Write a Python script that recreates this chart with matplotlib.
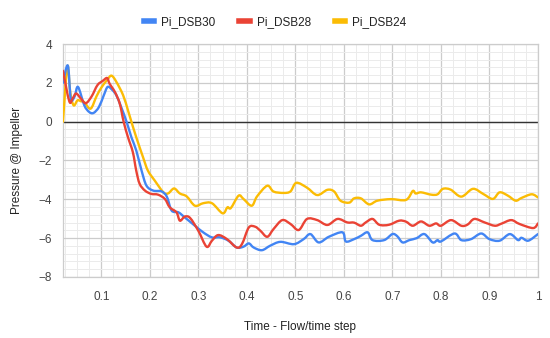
import numpy as np
import matplotlib.pyplot as plt
from matplotlib.path import Path
from matplotlib.patches import PathPatch
from matplotlib.lines import Line2D
from matplotlib.ticker import MultipleLocator, FixedLocator

plt.rcParams['font.family'] = ['Liberation Sans', 'DejaVu Sans']

# Pi_DSB30 (blue)
x30 = [0.021, 0.031, 0.037, 0.045, 0.052, 0.065, 0.075, 0.084, 0.095, 0.105, 0.113, 0.122,
       0.131, 0.141, 0.152, 0.162, 0.172, 0.183, 0.193, 0.207, 0.224, 0.235, 0.245, 0.259,
       0.272, 0.293, 0.31, 0.328, 0.345, 0.362, 0.379, 0.393, 0.404, 0.414, 0.431, 0.448,
       0.469, 0.497, 0.517, 0.531, 0.548, 0.569, 0.597, 0.604, 0.621, 0.635, 0.649, 0.659,
       0.683, 0.7, 0.71, 0.721, 0.735, 0.75, 0.766, 0.783, 0.793, 0.80, 0.828, 0.842,
       0.862, 0.883, 0.9, 0.921, 0.942, 0.959, 0.966, 0.98, 1.0]
y30 = [2.0, 2.89, 1.19, 1.3, 1.79, 0.84, 0.5, 0.45, 0.75, 1.35, 1.79, 1.65,
       1.36, 0.75, 0.0, -0.8, -1.48, -2.52, -3.29, -3.55, -3.59, -3.86, -4.58, -4.67,
       -4.93, -5.36, -5.7, -5.96, -5.96, -6.13, -6.48, -6.44, -6.27, -6.48, -6.62, -6.39,
       -6.19, -6.31, -6.05, -5.79, -6.22, -5.93, -5.7, -6.17, -6.05, -5.88, -5.7, -6.1,
       -6.1, -5.79, -5.9, -6.22, -6.1, -6.0, -5.79, -6.22, -6.1, -6.17, -5.76, -6.1,
       -6.05, -5.76, -6.05, -6.13, -5.79, -6.1, -5.98, -6.13, -5.79]

# Pi_DSB28 (red)
x28 = [0.021, 0.034, 0.041, 0.048, 0.058, 0.068, 0.08, 0.092, 0.103, 0.112, 0.117, 0.128,
       0.138, 0.146, 0.155, 0.165, 0.172, 0.179, 0.19, 0.203, 0.217, 0.231, 0.241, 0.255,
       0.262, 0.272, 0.283, 0.3, 0.317, 0.328, 0.341, 0.359, 0.379, 0.39, 0.404, 0.417,
       0.428, 0.442, 0.455, 0.473, 0.49, 0.507, 0.524, 0.545, 0.566, 0.587, 0.607, 0.621,
       0.635, 0.645, 0.659, 0.673, 0.693, 0.714, 0.728, 0.742, 0.759, 0.776, 0.79, 0.80,
       0.821, 0.842, 0.855, 0.869, 0.89, 0.911, 0.925, 0.945, 0.962, 0.99, 1.0]
y28 = [2.62, 1.05, 1.2, 1.45, 1.19, 0.95, 1.3, 1.88, 2.1, 2.25, 1.96, 1.53,
       0.93, 0.0, -0.8, -1.57, -2.52, -3.2, -3.55, -3.72, -3.76, -3.98, -4.41, -4.67,
       -5.1, -4.89, -4.96, -5.62, -6.44, -6.13, -5.84, -6.05, -6.48, -6.3, -5.45, -5.41,
       -5.62, -5.93, -5.53, -5.07, -5.27, -5.58, -5.01, -5.07, -5.32, -5.01, -5.19, -5.2,
       -5.36, -5.19, -5.01, -5.31, -5.31, -5.1, -5.15, -5.36, -5.14, -5.36, -5.24, -5.36,
       -5.07, -5.36, -5.3, -5.01, -5.19, -5.36, -5.25, -5.07, -5.27, -5.48, -5.24]

# Pi_DSB24 (yellow)
x24 = [0.021, 0.030, 0.036, 0.043, 0.051, 0.058, 0.065, 0.078, 0.09, 0.1, 0.112, 0.121,
       0.131, 0.145, 0.155, 0.162, 0.172, 0.186, 0.196, 0.21, 0.228, 0.238, 0.25, 0.262,
       0.276, 0.293, 0.31, 0.328, 0.35, 0.36, 0.367, 0.383, 0.393, 0.41, 0.421, 0.442,
       0.455, 0.476, 0.49, 0.502, 0.524, 0.545, 0.566, 0.58, 0.593, 0.611, 0.621, 0.635,
       0.652, 0.669, 0.697, 0.728, 0.742, 0.748, 0.759, 0.78, 0.793, 0.804, 0.82, 0.842,
       0.866, 0.887, 0.907, 0.921, 0.938, 0.954, 0.966, 0.987, 1.0]
y24 = [0.0, 2.85, 1.5, 0.84, 1.1, 1.05, 1.0, 0.67, 1.3, 1.75, 2.15, 2.37,
       2.05, 1.36, 0.58, 0.0, -0.8, -1.83, -2.52, -3.03, -3.64, -3.69, -3.44, -3.7,
       -3.85, -4.33, -4.2, -4.2, -4.72, -4.41, -4.45, -3.81, -3.98, -4.33, -3.85, -3.3,
       -3.6, -3.67, -3.59, -3.15, -3.4, -3.78, -3.51, -3.6, -4.07, -4.17, -3.95, -3.95,
       -4.26, -4.07, -3.99, -4.03, -3.57, -3.7, -3.64, -3.76, -3.74, -3.46, -3.5, -3.86,
       -3.46, -3.72, -3.98, -3.64, -3.81, -4.07, -3.93, -3.74, -3.9]

series = [('Pi_DSB30', x30, y30, '#4285F4', 5),
          ('Pi_DSB28', x28, y28, '#EA4335', 6),
          ('Pi_DSB24', x24, y24, '#FBBC04', 4)]

xticks = [0.1, 0.2, 0.3, 0.4, 0.5, 0.6, 0.7, 0.8, 0.9, 1.0]
xtick_labels = ['0.1', '0.2', '0.3', '0.4', '0.5', '0.6', '0.7', '0.8', '0.9', '1']
yticks = [4, 2, 0, -2, -4, -6, -8]


def smooth_path(xs, ys):
    # catmull-rom through the points, drawn as cubic bezier segments
    p = np.column_stack([xs, ys])
    ext = np.vstack([p[0], p, p[-1]])
    verts = [p[0]]
    codes = [Path.MOVETO]
    for i in range(len(p) - 1):
        p0, p1, p2, p3 = ext[i], ext[i + 1], ext[i + 2], ext[i + 3]
        verts += [p1 + (p2 - p0) / 6, p2 - (p3 - p1) / 6, p2]
        codes += [Path.CURVE4] * 3
    return Path(verts, codes)


fig = plt.figure(figsize=(5.5, 3.38), dpi=100)
ax = fig.add_axes([0.1145, 0.1805, 0.8636, 0.6893])

handles = []
for name, xs, ys, col, z in series:
    ax.add_patch(PathPatch(smooth_path(xs, ys), facecolor='none', edgecolor=col,
                           lw=1.7, joinstyle='round', capstyle='round', zorder=z))
    handles.append(Line2D([], [], color=col, lw=4, label=name))
ax.axhline(0, color='#333333', lw=1, zorder=2)

ax.set_xlim(0.021, 1.0)
ax.set_ylim(-8, 4)
ax.xaxis.set_major_locator(FixedLocator(xticks))
ax.set_xticklabels(xtick_labels)
ax.xaxis.set_minor_locator(MultipleLocator(0.025))
ax.yaxis.set_major_locator(FixedLocator(yticks))
ax.set_yticklabels([str(t).replace('-', '\u2212') for t in yticks])
ax.yaxis.set_minor_locator(MultipleLocator(0.4))
ax.grid(which='major', color='#cccccc', lw=0.9)
ax.grid(which='minor', color='#ebebeb', lw=0.7)
ax.set_axisbelow(True)
ax.tick_params(which='both', length=0, labelsize=8.5, colors='#444444')
ax.tick_params(axis='x', pad=10)
ax.tick_params(axis='y', pad=8)
for s in ax.spines.values():
    s.set_color('#cccccc')
    s.set_linewidth(0.9)

ax.set_xlabel('Time - Flow/time step', fontsize=8.5, color='#222222', labelpad=13)
ax.set_ylabel('Pressure @ Impeller', fontsize=8.5, color='#222222', labelpad=11)

leg = fig.legend(handles=handles, loc='upper center', bbox_to_anchor=(0.5, 0.985), ncol=3,
                 frameon=False, fontsize=8.5, handlelength=0.9, handletextpad=0.6,
                 columnspacing=2.0)
for t in leg.get_texts():
    t.set_color('#222222')

fig.savefig('out.png', dpi=100)
